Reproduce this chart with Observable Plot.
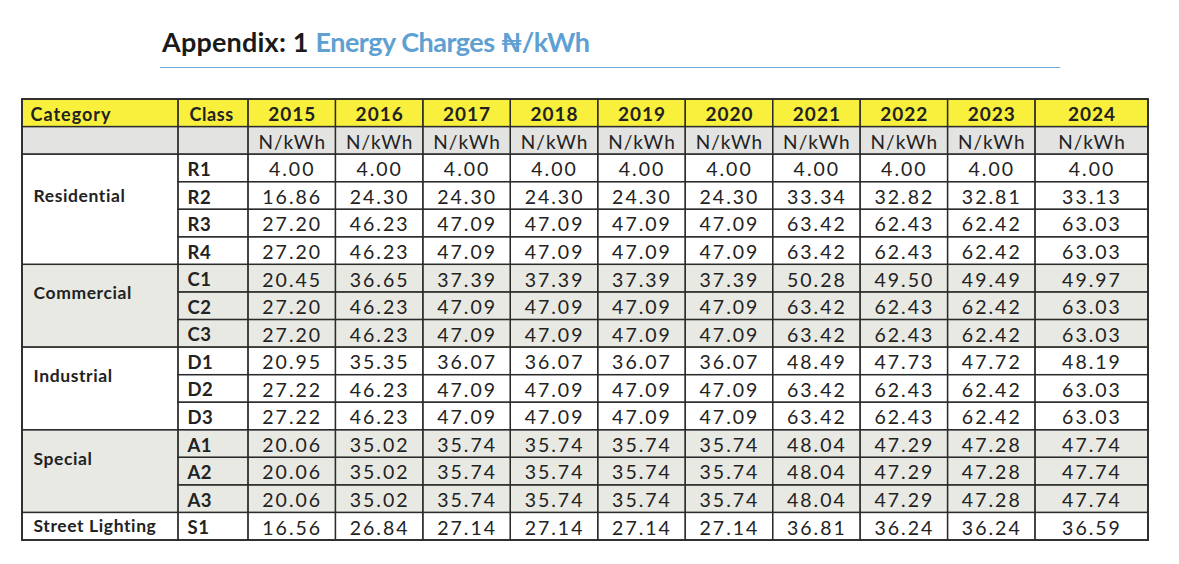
<!DOCTYPE html>
<html><head><meta charset="utf-8">
<script src="https://cdn.jsdelivr.net/npm/d3@7"></script>
<script src="https://cdn.jsdelivr.net/npm/@observablehq/plot@0.6"></script>
<style>
body{margin:0;background:#fff;font-family:Lato,sans-serif;}
#head{position:relative;height:80px;width:1179px;}
#title{position:absolute;left:162px;top:28px;font-size:27px;font-weight:700;white-space:nowrap;color:#1a1a1a;line-height:1;letter-spacing:0.2px}
#title span{color:#5fa0d2;letter-spacing:-0.5px}
#rule{position:absolute;left:160px;top:67px;width:900px;border-top:1.5px solid #6fa8d6}
</style></head><body>
<div id="head"><div id="title">Appendix: 1 <span>Energy Charges ₦/kWh</span></div><div id="rule"></div></div>
<div id="chart"></div>
<script>
// ---- data ----
const years = ["2015","2016","2017","2018","2019","2020","2021","2022","2023","2024"];
const unitLabel = "N/kWh";
const headerLeft = ["Category","Class"];
const categories = ["Residential","Commercial","Industrial","Special","Street Lighting"];
const classes = ["R1","R2","R3","R4","C1","C2","C3","D1","D2","D3","A1","A2","A3","S1"];
const classCategory = ["Residential","Residential","Residential","Residential","Commercial","Commercial","Commercial","Industrial","Industrial","Industrial","Special","Special","Special","Street Lighting"];
const R1 = [4.00,4.00,4.00,4.00,4.00,4.00,4.00,4.00,4.00,4.00];
const R2 = [16.86,24.30,24.30,24.30,24.30,24.30,33.34,32.82,32.81,33.13];
const R3 = [27.20,46.23,47.09,47.09,47.09,47.09,63.42,62.43,62.42,63.03];
const R4 = [27.20,46.23,47.09,47.09,47.09,47.09,63.42,62.43,62.42,63.03];
const C1 = [20.45,36.65,37.39,37.39,37.39,37.39,50.28,49.50,49.49,49.97];
const C2 = [27.20,46.23,47.09,47.09,47.09,47.09,63.42,62.43,62.42,63.03];
const C3 = [27.20,46.23,47.09,47.09,47.09,47.09,63.42,62.43,62.42,63.03];
const D1 = [20.95,35.35,36.07,36.07,36.07,36.07,48.49,47.73,47.72,48.19];
const D2 = [27.22,46.23,47.09,47.09,47.09,47.09,63.42,62.43,62.42,63.03];
const D3 = [27.22,46.23,47.09,47.09,47.09,47.09,63.42,62.43,62.42,63.03];
const A1 = [20.06,35.02,35.74,35.74,35.74,35.74,48.04,47.29,47.28,47.74];
const A2 = [20.06,35.02,35.74,35.74,35.74,35.74,48.04,47.29,47.28,47.74];
const A3 = [20.06,35.02,35.74,35.74,35.74,35.74,48.04,47.29,47.28,47.74];
const S1 = [16.56,26.84,27.14,27.14,27.14,27.14,36.81,36.24,36.24,36.59];
const classValues = [R1,R2,R3,R4,C1,C2,C3,D1,D2,D3,A1,A2,A3,S1];

// ---- layout (not data) ----
const yearW = 787 / 9;
const colWidths = [156, 70, ...years.slice(0, 9).map(() => yearW), 113];
const edges = [0];
colWidths.forEach(w => edges.push(edges[edges.length - 1] + w));
const total = edges[edges.length - 1];
const nRows = 2 + classes.length;
const YELLOW = "#f8f03c", UNIT_GREY = "#e3e3e1", SHADE = "#e8e9e2", INK = "#222";
const shaded = new Set(["Commercial","Special"]);
const labelOffset = {"Residential":1.5,"Commercial":1.05,"Industrial":1.05,"Special":1.05,"Street Lighting":0.5};
const leftPad = 11;

// ---- build cells ----
const bg = [], borders = [];
const headerCells = [];
[...headerLeft, ...years].forEach((t, c) => {
  const cell = {x1: edges[c], x2: edges[c+1], y1: 0, y2: 1, fill: YELLOW, text: t, col: c};
  bg.push(cell); borders.push(cell); headerCells.push(cell);
});
const unitCells = [];
for (let c = 0; c < edges.length - 1; c++) {
  const cell = {x1: edges[c], x2: edges[c+1], y1: 1, y2: 2, fill: UNIT_GREY, text: c >= 2 ? unitLabel : ""};
  bg.push(cell); borders.push(cell); if (c >= 2) unitCells.push(cell);
}
const catCells = [], classCells = [], valueCells = [];
categories.forEach(cat => {
  const idx = classes.map((k, i) => classCategory[i] === cat ? i : -1).filter(i => i >= 0);
  const start = 2 + idx[0];
  const fill = shaded.has(cat) ? SHADE : "#ffffff";
  const cell = {x1: edges[0], x2: edges[1], y1: start, y2: start + idx.length, fill, text: cat, ylab: start + labelOffset[cat]};
  bg.push(cell); borders.push(cell); catCells.push(cell);
  idx.forEach(i => {
    const r = 2 + i;
    const cc = {x1: edges[1], x2: edges[2], y1: r, y2: r + 1, fill, text: classes[i]};
    bg.push(cc); borders.push(cc); classCells.push(cc);
    years.forEach((y, j) => {
      const vc = {x1: edges[2 + j], x2: edges[3 + j], y1: r, y2: r + 1, fill, text: classValues[i][j].toFixed(2)};
      bg.push(vc); borders.push(vc); valueCells.push(vc);
    });
  });
});

const cx = d => (d.x1 + d.x2) / 2, cy = d => (d.y1 + d.y2) / 2 + 0.06;

const chart = Plot.plot({
  width: 1179, height: 484,
  marginTop: 19, marginBottom: 24, marginLeft: 22, marginRight: 31,
  x: {domain: [0, total], axis: null},
  y: {domain: [0, nRows], reverse: true, axis: null},
  style: {fontFamily: "Lato, sans-serif", background: "#fff"},
  marks: [
    Plot.rect(bg, {x1: "x1", x2: "x2", y1: "y1", y2: "y2", fill: d => d.fill}),
    Plot.rect(borders, {x1: "x1", x2: "x2", y1: "y1", y2: "y2", fill: "none", stroke: "#2b2b2b", strokeWidth: 1.3}),
    Plot.rect([{x1: 0, x2: total, y1: 0, y2: nRows}], {x1: "x1", x2: "x2", y1: "y1", y2: "y2", fill: "none", stroke: "#2b2b2b", strokeWidth: 1.8}),
    Plot.text(headerCells.filter(d => d.col === 0), {x: d => d.x1 + leftPad - 3, y: cy, text: "text", textAnchor: "start", fontWeight: "bold", fontSize: 18, fill: INK}),
    Plot.text(headerCells.filter(d => d.col === 1), {x: d => d.x1 + 11, y: cy, text: "text", textAnchor: "start", fontWeight: "bold", fontSize: 18, fill: INK}),
    Plot.text(headerCells.filter(d => d.col >= 2), {x: cx, y: cy, text: "text", fontWeight: "bold", fontSize: 19, fill: INK}),
    Plot.text(unitCells, {x: cx, y: cy, text: "text", fontSize: 19, fill: INK}),
    Plot.text(catCells, {x: d => d.x1 + leftPad, y: "ylab", text: "text", textAnchor: "start", fontWeight: "bold", fontSize: 17.5, fill: INK}),
    Plot.text(classCells, {x: d => d.x1 + 9, y: cy, text: "text", textAnchor: "start", fontWeight: "bold", fontSize: 18.5, fill: INK}),
    Plot.text(valueCells, {x: cx, y: cy, text: "text", fontSize: 19.5, fill: INK})
  ]
});
// letter-spacing per text mark (in mark order) to approximate the wider original typeface
const spacing = ["1px", "0.6px", "1px", "1px", "0.6px", "0.5px", "2px"];
d3.select(chart).selectAll("g[aria-label='text']").each(function(_, i) {
  d3.select(this).style("letter-spacing", spacing[i]);
});
document.getElementById("chart").appendChild(chart);
</script>
</body></html>
